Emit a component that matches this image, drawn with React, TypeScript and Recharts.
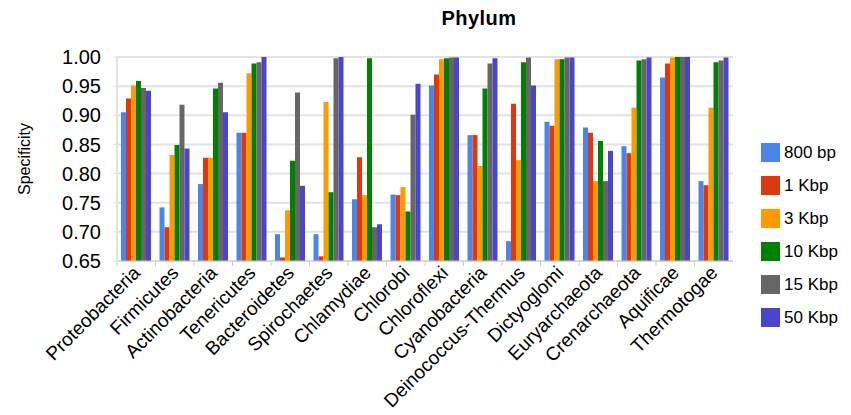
import { BarChart, Bar, XAxis, YAxis, CartesianGrid, Legend } from 'recharts';

const phyla = [
  'Proteobacteria', 'Firmicutes', 'Actinobacteria', 'Tenericutes', 'Bacteroidetes', 'Spirochaetes',
  'Chlamydiae', 'Chlorobi', 'Chloroflexi', 'Cyanobacteria', 'Deinococcus-Thermus', 'Dictyoglomi',
  'Euryarchaeota', 'Crenarchaeota', 'Aquificae', 'Thermotogae',
];

const bp800 = [0.905, 0.742, 0.782, 0.870, 0.696, 0.696, 0.756, 0.764, 0.951, 0.866, 0.684, 0.889, 0.879, 0.847, 0.965, 0.787];
const kbp1 = [0.929, 0.708, 0.827, 0.870, 0.656, 0.658, 0.828, 0.763, 0.970, 0.866, 0.920, 0.882, 0.870, 0.835, 0.989, 0.780];
const kbp3 = [0.951, 0.832, 0.827, 0.972, 0.737, 0.923, 0.763, 0.777, 0.996, 0.813, 0.823, 0.996, 0.787, 0.913, 0.999, 0.913];
const kbp10 = [0.959, 0.849, 0.946, 0.989, 0.822, 0.768, 0.998, 0.735, 0.998, 0.946, 0.991, 0.996, 0.856, 0.994, 1.0, 0.991];
const kbp15 = [0.947, 0.918, 0.956, 0.991, 0.939, 0.998, 0.708, 0.901, 0.999, 0.989, 0.999, 0.999, 0.787, 0.996, 1.0, 0.994];
const kbp50 = [0.942, 0.843, 0.905, 1.0, 0.779, 1.0, 0.713, 0.954, 0.999, 0.998, 0.951, 0.999, 0.839, 0.999, 1.0, 0.999];

const yTicks = [0.65, 0.7, 0.75, 0.8, 0.85, 0.9, 0.95, 1.0];

const series = [
  { key: 'bp800', name: '800 bp', color: '#4a86e8', values: bp800 },
  { key: 'kbp1', name: '1 Kbp', color: '#dc3912', values: kbp1 },
  { key: 'kbp3', name: '3 Kbp', color: '#ff9900', values: kbp3 },
  { key: 'kbp10', name: '10 Kbp', color: '#008000', values: kbp10 },
  { key: 'kbp15', name: '15 Kbp', color: '#666666', values: kbp15 },
  { key: 'kbp50', name: '50 Kbp', color: '#4b45cc', values: kbp50 },
];

const data = phyla.map((phylum, i) => {
  const row: Record<string, string | number> = { phylum };
  series.forEach((s) => { row[s.key] = s.values[i]; });
  return row;
});

const font = '"Liberation Sans", Arial, sans-serif';

function CategoryTick(props: any) {
  const { x, y, payload } = props;
  return (
    <g>
      <line x1={x - 19.25} x2={x - 19.25} y1={y} y2={y + 5} stroke="#cccccc" />
      <text
        transform={`translate(${x + 5},${y + 13}) rotate(-45)`}
        textAnchor="end"
        fontSize={19}
        fill="#000"
      >
        {payload.value}
      </text>
    </g>
  );
}

function LegendBox() {
  return (
    <div style={{ fontFamily: font }}>
      {series.map((s) => (
        <div key={s.key} style={{ display: 'flex', alignItems: 'center', height: 33 }}>
          <span style={{ width: 19, height: 19, background: s.color, display: 'inline-block' }} />
          <span style={{ fontSize: 17, marginLeft: 4, color: '#000' }}>{s.name}</span>
        </div>
      ))}
    </div>
  );
}

export default function App() {
  return (
    <div style={{ position: 'absolute', left: 0, top: 0, width: 851, height: 415, background: '#fff', fontFamily: font }}>
      <div style={{ position: 'absolute', left: 379, width: 200, top: 7, textAlign: 'center', fontSize: 20, fontWeight: 'bold', letterSpacing: 0.5 }}>
        Phylum
      </div>
      <BarChart
        width={851}
        height={415}
        data={data}
        margin={{ top: 57, right: 118, bottom: 124, left: 0 }}
        barCategoryGap={4}
        barGap={0}
      >
        <CartesianGrid vertical={false} stroke="#e2e2e2" strokeWidth={2} />
        <XAxis
          dataKey="phylum"
          interval={0}
          height={30}
          tick={<CategoryTick />}
          tickLine={false}
          tickSize={0}
          tickMargin={0}
          axisLine={{ stroke: '#cccccc' }}
        />
        <YAxis
          width={117}
          domain={[0.65, 1]}
          ticks={yTicks}
          interval={0}
          tickFormatter={(v: number) => v.toFixed(2)}
          tick={{ fontSize: 20, fill: '#000' }}
          tickSize={4}
          tickMargin={12}
          tickLine={{ stroke: '#e2e2e2' }}
          axisLine={{ stroke: '#e2e2e2', strokeWidth: 2 }}
          allowDataOverflow
          label={{
            content: (p: any) => {
              const vb = p.viewBox;
              const cx = vb.x + 24;
              const cy = vb.y + vb.height / 2;
              return (
                <text
                  transform={`translate(${cx},${cy}) rotate(-90)`}
                  textAnchor="middle"
                  dominantBaseline="central"
                  fontSize={16}
                  fill="#000"
                >
                  Specificity
                </text>
              );
            },
          }}
        />
        <YAxis
          yAxisId="frame"
          orientation="right"
          width={0}
          tick={false}
          tickLine={false}
          axisLine={{ stroke: '#e2e2e2', strokeWidth: 2 }}
        />
        <Legend
          layout="vertical"
          align="center"
          verticalAlign="middle"
          content={<LegendBox />}
          wrapperStyle={{ left: 761, top: 136, width: 'auto', height: 'auto' }}
        />
        {series.map((s) => (
          <Bar key={s.key} dataKey={s.key} name={s.name} fill={s.color} isAnimationActive={false} />
        ))}
      </BarChart>
    </div>
  );
}
